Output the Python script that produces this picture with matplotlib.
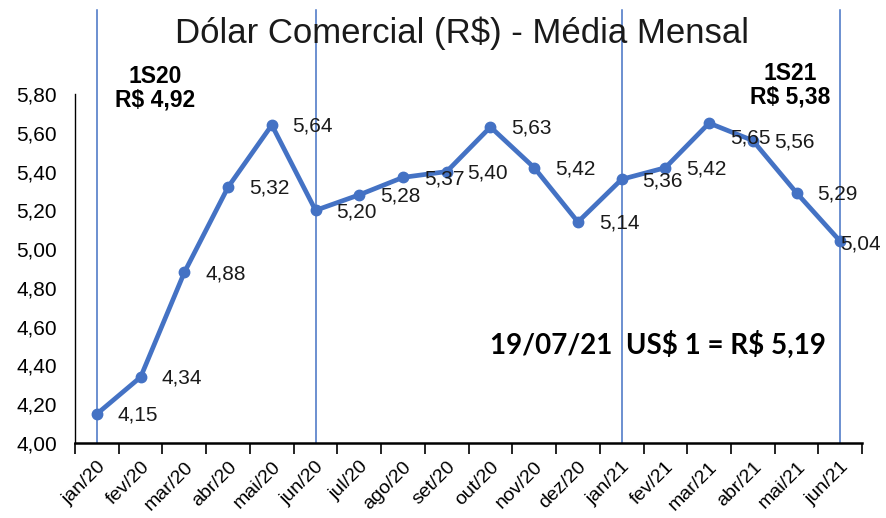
import matplotlib.pyplot as plt
import numpy as np

meses = ['jan/20', 'fev/20', 'mar/20', 'abr/20', 'mai/20', 'jun/20', 'jul/20', 'ago/20',
         'set/20', 'out/20', 'nov/20', 'dez/20', 'jan/21', 'fev/21', 'mar/21', 'abr/21',
         'mai/21', 'jun/21']
dolar = [4.15, 4.34, 4.88, 5.32, 5.64, 5.20, 5.28, 5.37, 5.40, 5.63, 5.42, 5.14,
         5.36, 5.42, 5.65, 5.56, 5.29, 5.04]
marcos = ['jan/20', 'jun/20', 'jan/21', 'jun/21']
yticks = [4.00, 4.20, 4.40, 4.60, 4.80, 5.00, 5.20, 5.40, 5.60, 5.80]

azul = '#4472C4'
plt.rcParams['font.family'] = ['Liberation Sans', 'DejaVu Sans']

fig = plt.figure(figsize=(8.87, 5.18), dpi=100)
ax = fig.add_axes([0.0846, 0.1448, 0.8874, 0.6737])

x = np.arange(len(meses))
ax.plot(x, dolar, color=azul, lw=3.4, marker='o', ms=7.5, zorder=3)

# rótulos dos pontos (alguns deslocados como no original)
for i, v in enumerate(dolar):
    dx, dy = 15, -1
    if meses[i] == 'mar/21':
        dx, dy = 15, -11
    if meses[i] == 'jun/21':
        dx, dy = 0, -2
    ax.annotate(f'{v:.2f}'.replace('.', ','), (i, v), xytext=(dx, dy),
                textcoords='offset points', ha='left', va='center',
                fontsize=15, color='#1a1a1a', zorder=4, annotation_clip=False)

# linhas verticais dos semestres
for m in marcos:
    ax.axvline(meses.index(m), ymin=0, ymax=1.24, color=azul, lw=1.1,
               clip_on=False, zorder=2)

ax.set_xlim(-0.5, len(meses) - 0.5)
ax.set_ylim(4.0, 5.8)
ax.set_yticks(yticks)
ax.set_yticklabels([f'{t:.2f}'.replace('.', ',') for t in yticks], fontsize=15)
ax.set_xticks(x)
ax.set_xticklabels(meses, rotation=45, ha='right', rotation_mode='anchor', fontsize=14)
ax.set_xticks(np.arange(-0.5, len(meses)), minor=True)
ax.tick_params(axis='x', which='major', length=0, pad=11)
ax.tick_params(axis='x', which='minor', length=8, width=1.2, direction='out')
ax.tick_params(axis='y', length=0, pad=13)

for s in ['top', 'right']:
    ax.spines[s].set_visible(False)
ax.spines['bottom'].set_linewidth(1.8)
ax.spines['left'].set_linewidth(1.0)

fig.text(0.521, 0.935, 'Dólar Comercial (R$) - Média Mensal', ha='center', va='center',
         fontsize=25, color='#1a1a1a')
fig.text(0.175, 0.83, '1S20\nR$ 4,92', ha='center', va='center', fontsize=16.5,
         fontweight='bold', linespacing=1.05)
fig.text(0.891, 0.835, '1S21\nR$ 5,38', ha='center', va='center', fontsize=16.5,
         fontweight='bold', linespacing=1.05)
fig.text(0.742, 0.334, r'19/07/21  US\$ 1 = R\$ 5,19', ha='center', va='center',
         fontsize=20, fontweight='bold', family=['Lato', 'DejaVu Sans'])

fig.savefig('out.png', dpi=100)
